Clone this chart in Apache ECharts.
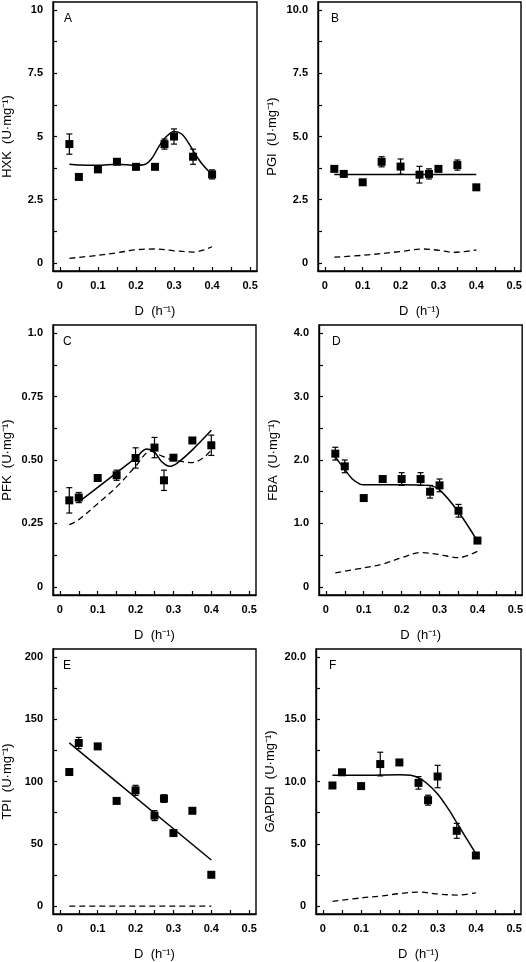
<!DOCTYPE html>
<html><head><meta charset="utf-8">
<script src="https://cdn.jsdelivr.net/npm/echarts@6/dist/echarts.min.js"></script>
<style>html,body{margin:0;padding:0;background:#fff}#c{width:526px;height:962px}</style>
</head><body><div id="c"></div>
<script>
// ---- data ----
const dilution = [0.025, 0.05, 0.1, 0.15, 0.2, 0.25, 0.275, 0.3, 0.35, 0.4];
const xTickLabels = ['0', '0.1', '0.2', '0.3', '0.4', '0.5'];

const hxkVals = [4.7, 3.4, 3.7, 4.0, 3.8, 3.8, 4.7, 5.0, 4.2, 3.5];
const hxkErr  = [0.4, 0, 0, 0, 0, 0, 0.2, 0.3, 0.3, 0.18];
const hxkFitX = [0.025, 0.05, 0.1, 0.15, 0.2, 0.22, 0.24, 0.26, 0.28, 0.3, 0.32, 0.34, 0.36, 0.38, 0.4];
const hxkFitY = [3.9, 3.87, 3.86, 3.9, 3.86, 3.88, 4.1, 4.6, 5.0, 5.2, 5.1, 4.7, 4.2, 3.8, 3.5];
const hxkDashX = [0.025, 0.1, 0.15, 0.2, 0.25, 0.3, 0.35, 0.38, 0.4];
const hxkDashY = [0.18, 0.3, 0.4, 0.52, 0.55, 0.48, 0.43, 0.52, 0.64];
const hxkTicks = ['0', '2.5', '5', '7.5', '10'];

const pgiVals = [3.72, 3.52, 3.19, 4.0, 3.81, 3.49, 3.52, 3.72, 3.87, 2.99];
const pgiErr  = [0, 0, 0, 0.2, 0.3, 0.33, 0.2, 0, 0.2, 0];
const pgiFitX = [0.025, 0.4];
const pgiFitY = [3.5, 3.5];
const pgiDashX = [0.025, 0.1, 0.2, 0.26, 0.3, 0.34, 0.4];
const pgiDashY = [0.23, 0.3, 0.45, 0.55, 0.5, 0.42, 0.51];
const pgiTicks = ['0', '2.5', '5.0', '7.5', '10.0'];

const pfkVals = [0.341, 0.352, 0.429, 0.44, 0.508, 0.549, 0.42, 0.509, 0.577, 0.558];
const pfkErr  = [0.05, 0.02, 0, 0.02, 0.04, 0.04, 0.04, 0, 0, 0.04];
const pfkFitX = [0.05, 0.1, 0.15, 0.2, 0.23, 0.25, 0.27, 0.29, 0.31, 0.35, 0.4];
const pfkFitY = [0.335, 0.392, 0.45, 0.508, 0.543, 0.53, 0.492, 0.475, 0.488, 0.54, 0.617];
const pfkDashX = [0.025, 0.05, 0.1, 0.15, 0.2, 0.24, 0.27, 0.3, 0.35, 0.38, 0.4];
const pfkDashY = [0.245, 0.265, 0.328, 0.394, 0.475, 0.535, 0.515, 0.5, 0.49, 0.51, 0.54];
const pfkTicks = ['0', '0.25', '0.50', '0.75', '1.0'];

const fbaVals = [2.1, 1.9, 1.4, 1.7, 1.7, 1.7, 1.5, 1.6, 1.2, 0.73];
const fbaErr  = [0.1, 0.1, 0, 0, 0.1, 0.1, 0.1, 0.1, 0.1, 0];
const fbaFitX = [0.025, 0.05, 0.07, 0.09, 0.1, 0.2, 0.27, 0.3, 0.35, 0.4];
const fbaFitY = [2.05, 1.85, 1.7, 1.62, 1.61, 1.61, 1.6, 1.53, 1.18, 0.72];
const fbaDashX = [0.025, 0.1, 0.15, 0.2, 0.25, 0.3, 0.35, 0.4];
const fbaDashY = [0.22, 0.3, 0.36, 0.46, 0.54, 0.51, 0.46, 0.56];
const fbaTicks = ['0', '1.0', '2.0', '3.0', '4.0'];

const tpiVals = [107.6, 130.9, 128.2, 84.4, 92.9, 72.6, 86.3, 58.6, 76.5, 25.1];
const tpiErr  = [0, 4.5, 0, 0, 4, 4, 3, 0, 0, 0];
const tpiFitX = [0.025, 0.4];
const tpiFitY = [131, 37];
const tpiDashX = [0.025, 0.4];
const tpiDashY = [0, 0];
const tpiTicks = ['0', '50', '100', '150', '200'];

const gapdhVals = [9.68, 10.74, 9.63, 11.4, 11.53, 9.89, 8.5, 10.4, 6.04, 4.06];
const gapdhErr  = [0, 0, 0, 0.95, 0, 0.5, 0.4, 0.9, 0.6, 0.2];
const gapdhFitX = [0.025, 0.1, 0.2, 0.23, 0.25, 0.27, 0.3, 0.33, 0.35, 0.37, 0.4];
const gapdhFitY = [10.5, 10.5, 10.55, 10.5, 10.3, 9.9, 9.0, 7.7, 6.7, 5.7, 4.2];
const gapdhDashX = [0.025, 0.1, 0.15, 0.2, 0.25, 0.3, 0.35, 0.4];
const gapdhDashY = [0.37, 0.65, 0.8, 1.0, 1.12, 0.97, 0.88, 1.06];
const gapdhTicks = ['0', '5.0', '10.0', '15.0', '20.0'];

// ---- layout ----
const panels = [
  {letter:'A', name:'HXK', vals:hxkVals, err:hxkErr, fx:hxkFitX, fy:hxkFitY, dx:hxkDashX, dy:hxkDashY, ticks:hxkTicks, max:10, smooth:0.35,
   grid:{left:51, top:2, width:206, height:269}},
  {letter:'B', name:'PGI', vals:pgiVals, err:pgiErr, fx:pgiFitX, fy:pgiFitY, dx:pgiDashX, dy:pgiDashY, ticks:pgiTicks, max:10, smooth:0.35,
   grid:{left:318, top:2, width:203, height:269}},
  {letter:'C', name:'PFK', vals:pfkVals, err:pfkErr, fx:pfkFitX, fy:pfkFitY, dx:pfkDashX, dy:pfkDashY, ticks:pfkTicks, max:1, smooth:0.35,
   grid:{left:50, top:325, width:206, height:270}},
  {letter:'D', name:'FBA', vals:fbaVals, err:fbaErr, fx:fbaFitX, fy:fbaFitY, dx:fbaDashX, dy:fbaDashY, ticks:fbaTicks, max:4, smooth:0.35,
   grid:{left:319, top:325, width:205, height:270}},
  {letter:'E', name:'TPI', vals:tpiVals, err:tpiErr, fx:tpiFitX, fy:tpiFitY, dx:tpiDashX, dy:tpiDashY, ticks:tpiTicks, max:200, smooth:false,
   grid:{left:50, top:649, width:206, height:269}},
  {letter:'F', name:'GAPDH', vals:gapdhVals, err:gapdhErr, fx:gapdhFitX, fy:gapdhFitY, dx:gapdhDashX, dy:gapdhDashY, ticks:gapdhTicks, max:20, smooth:0.35,
   grid:{left:316, top:649, width:205, height:269}}
];

const FONT = '"Liberation Sans", Arial, sans-serif';
const grids = [], xAxes = [], yAxes = [], series = [], graphics = [];

panels.forEach((p, i) => {
  grids.push(Object.assign({show:true, borderColor:'#000', borderWidth:1.4, backgroundColor:'transparent'}, p.grid));
  const xTickVals = [];
  for (let k = 0; k <= 10; k++) xTickVals.push(+(k * 0.05).toFixed(2));
  const xLabVals = xTickLabels.map(Number);
  xAxes.push({
    type:'value', gridIndex:i, min:-0.018, max:0.518,
    name:'D  (h\u207B\u00B9)', nameLocation:'middle', nameGap:34,
    nameTextStyle:{fontFamily:FONT, fontSize:13, color:'#000'},
    axisLine:{show:true, onZero:false, lineStyle:{color:'#000', width:1.4}},
    axisTick:{show:true, inside:true, length:4, customValues:xTickVals, lineStyle:{color:'#000', width:1.2}},
    axisLabel:{customValues:xLabVals, margin:9, fontFamily:FONT, fontSize:11, fontWeight:'bold', color:'#000',
      formatter:v => xTickLabels[Math.round(v*10)]},
    splitLine:{show:false}
  });
  const step = p.max / 4;
  const yLabVals = [0, step, 2*step, 3*step, 4*step];
  const yTickVals = [];
  for (let k = 0; k <= 8; k++) yTickVals.push(k * step / 2);
  const pad = p.max * 0.032;
  yAxes.push({
    type:'value', gridIndex:i, min:-pad, max:p.max + pad,
    name:p.name + '  (U\u00B7mg\u207B\u00B9)', nameLocation:'middle', nameGap:39, nameRotate:90,
    nameTextStyle:{fontFamily:FONT, fontSize:13, color:'#000'},
    axisLine:{show:true, onZero:false, lineStyle:{color:'#000', width:1.4}},
    axisTick:{show:true, inside:true, length:4, customValues:yTickVals, lineStyle:{color:'#000', width:1.2}},
    axisLabel:{customValues:yLabVals, margin:10, fontFamily:FONT, fontSize:11, fontWeight:'bold', color:'#000',
      formatter:v => p.ticks[Math.round(v/step)]},
    splitLine:{show:false}
  });
  // fit line
  series.push({type:'line', xAxisIndex:i, yAxisIndex:i, data:p.fx.map((x,k)=>[x,p.fy[k]]),
    symbol:'none', smooth:p.smooth, lineStyle:{color:'#000', width:1.5}, z:3, animation:false});
  // dashed line
  series.push({type:'line', xAxisIndex:i, yAxisIndex:i, data:p.dx.map((x,k)=>[x,p.dy[k]]),
    symbol:'none', smooth:p.smooth, lineStyle:{color:'#000', width:1.3, type:[6,4]}, z:3, animation:false});
  // error bars
  series.push({type:'custom', xAxisIndex:i, yAxisIndex:i, coordinateSystem:'cartesian2d',
    data:dilution.map((x,k)=>[x, p.vals[k], p.err[k]]),
    encode:{x:0, y:1},
    renderItem:(params, api) => {
      const x = api.value(0), y = api.value(1), e = api.value(2);
      if (!e) return {type:'group', children:[]};
      const a = api.coord([x, y + e]), b = api.coord([x, y - e]);
      const st = {stroke:'#000', lineWidth:1.2};
      return {type:'group', children:[
        {type:'line', shape:{x1:a[0], y1:a[1], x2:b[0], y2:b[1]}, style:st},
        {type:'line', shape:{x1:a[0]-3, y1:a[1], x2:a[0]+3, y2:a[1]}, style:st},
        {type:'line', shape:{x1:b[0]-3, y1:b[1], x2:b[0]+3, y2:b[1]}, style:st}
      ]};
    }, z:4, animation:false});
  // points
  series.push({type:'scatter', xAxisIndex:i, yAxisIndex:i, data:dilution.map((x,k)=>[x,p.vals[k]]),
    symbol:'rect', symbolSize:8, itemStyle:{color:'#000', opacity:1}, z:5, animation:false});
  graphics.push({type:'text', left:p.grid.left + 13, top:p.grid.top + 11,
    style:{text:p.letter, font:'12px ' + FONT, fill:'#000'}});
});

const chart = echarts.init(document.getElementById('c'), null, {renderer:'canvas'});
chart.setOption({
  animation:false,
  grid:grids, xAxis:xAxes, yAxis:yAxes, series:series, graphic:graphics
});
</script></body></html>
